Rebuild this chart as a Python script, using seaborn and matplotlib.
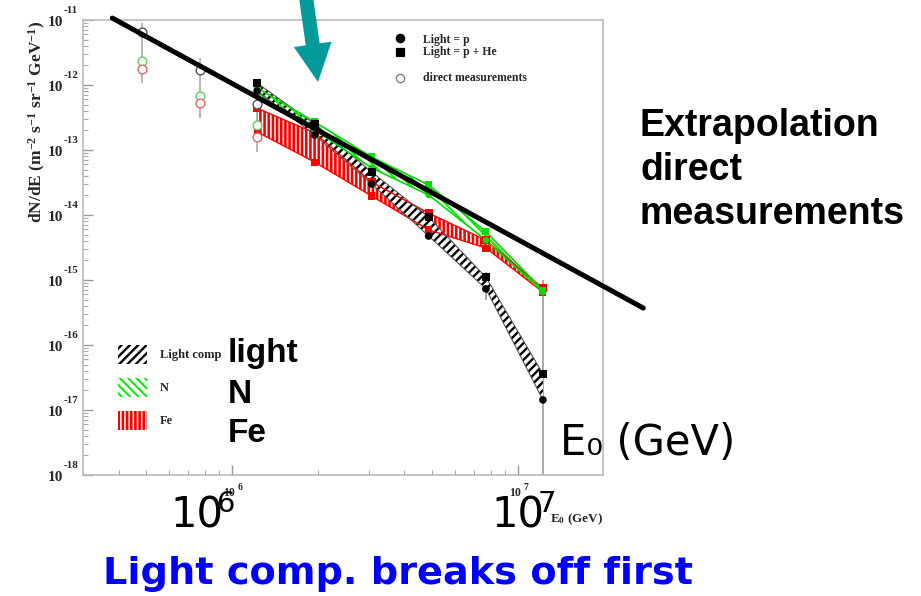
import numpy as np
import pandas as pd
import seaborn as sns
import matplotlib
matplotlib.use("Agg")
import matplotlib.pyplot as plt
import matplotlib.transforms as mtransforms
from matplotlib.patches import Polygon, Rectangle
from matplotlib.lines import Line2D
from matplotlib.ticker import LogLocator, NullFormatter

# ---------------------------------------------------------------- data
# primary energy bins (GeV)
energy = [1.22e6, 1.94e6, 3.07e6, 4.86e6, 7.71e6, 1.22e7]

# light component: p + He (upper edge) and p only (lower edge)
light_pHe = [1.07e-12, 2.5e-13, 4.6e-14, 9.3e-15, 1.1e-15, 3.6e-17]
light_p = [8.1e-13, 1.7e-13, 3.0e-14, 4.75e-15, 7.3e-16, 1.43e-17]

# nitrogen group band
n_upper = [9.0e-13, 2.7e-13, 7.8e-14, 2.9e-14, 5.5e-15, 7.0e-16]
n_lower = [6.8e-13, 2.03e-13, 5.3e-14, 2.03e-14, 4.1e-15, 6.5e-16]

# iron group band
fe_upper = [4.4e-13, 1.83e-13, 3.2e-14, 1.07e-14, 4.1e-15, 7.5e-16]
fe_lower = [1.9e-13, 6.5e-14, 1.96e-14, 5.9e-15, 3.1e-15, 6.5e-16]

# statistical error bars on the highest-energy light points
tail_energy = [7.71e6, 1.22e7]
tail_err_hi = [1.33e-15, 1.0e-15]
tail_err_lo = [4.9e-16, 1.0e-18]

# direct measurements (balloon / satellite)
direct_energy = [4.84e5, 7.67e5, 1.22e6]
direct_light = [6.5e-12, 1.7e-12, 5.1e-13]
direct_n = [2.34e-12, 6.8e-13, 2.4e-13]
direct_fe = [1.76e-12, 5.3e-13, 1.58e-13]
direct_err_hi = [9.0e-12, 2.6e-12, 5.9e-13]
direct_err_lo = [1.07e-12, 3.1e-13, 9.3e-14]

# power-law extrapolation of the direct measurements
extrap_energy = [3.8e5, 2.74e7]
extrap_flux = [1.07e-11, 3.7e-16]

y_decades = list(range(-18, -10))
x_decades = [6, 7]

# ---------------------------------------------------------------- style
sns.set_style("white")
plt.rcParams["mathtext.fontset"] = "custom"
plt.rcParams["mathtext.rm"] = "Liberation Serif:bold"
plt.rcParams["mathtext.it"] = "Liberation Serif:bold:italic"
plt.rcParams["mathtext.bf"] = "Liberation Serif:bold"

W, H = 921, 596
SERIF = dict(family="Liberation Serif", weight="bold")

# hatch style per band: (colour, pattern, line width)
FE_STYLE = ("#ff0000", "||||", 1.9)
LIGHT_STYLE = ("black", "////", 1.7)
N_STYLE = ("#00ee00", "\\\\\\\\", 1.4)


def fpx(x, y):
    """pixel position (from top-left) -> figure fraction"""
    return x / W, 1 - y / H


fig = plt.figure(figsize=(W / 100, H / 100), dpi=100)
ax = fig.add_axes([83 / W, 1 - 475 / H, 520 / W, 455 / H])
ax.set_xscale("log")
ax.set_yscale("log")
ax.set_xlim(3.0e5, 1.98e7)
ax.set_ylim(1e-18, 1e-11)

df = pd.DataFrame({
    "E": energy, "pHe": light_pHe, "p": light_p,
    "n_hi": n_upper, "n_lo": n_lower, "fe_hi": fe_upper, "fe_lo": fe_lower,
})
dd = pd.DataFrame({"E": direct_energy, "light": direct_light,
                   "n": direct_n, "fe": direct_fe})

# ---------------------------------------------------------------- bands
for (lo, hi, fc, z), (ec, hatch, hlw) in [
        (("fe_lo", "fe_hi", "white", 2), FE_STYLE),
        (("p", "pHe", "white", 3), LIGHT_STYLE),
        (("n_lo", "n_hi", "none", 4), N_STYLE)]:
    with plt.rc_context({"hatch.linewidth": hlw}):
        ax.fill_between(df["E"], df[lo], df[hi], facecolor=fc, edgecolor=ec,
                        hatch=hatch, linewidth=0, zorder=z)

for col, c, lw in [("fe_hi", "#ff0000", 1.0), ("fe_lo", "#ff0000", 1.0),
                   ("pHe", "#555555", 0.8), ("p", "#555555", 0.8),
                   ("n_hi", "#00dd00", 1.2), ("n_lo", "#00dd00", 1.2)]:
    sns.lineplot(data=df, x="E", y=col, color=c, lw=lw, ax=ax, zorder=5,
                 legend=False)

# markers
sns.scatterplot(data=df, x="E", y="fe_hi", marker="s", color="#ff0000", s=32,
                edgecolor="none", ax=ax, zorder=6)
sns.scatterplot(data=df, x="E", y="fe_lo", marker="s", color="#ff0000", s=26,
                edgecolor="none", ax=ax, zorder=6)
sns.scatterplot(data=df, x="E", y="n_hi", marker="s", color="#00dd00", s=26,
                edgecolor="none", ax=ax, zorder=6)
sns.scatterplot(data=df, x="E", y="n_lo", marker="o", color="#00dd00", s=22,
                edgecolor="none", ax=ax, zorder=6)
sns.scatterplot(data=df, x="E", y="pHe", marker="s", color="black", s=32,
                edgecolor="none", ax=ax, zorder=7)
sns.scatterplot(data=df, x="E", y="p", marker="o", color="black", s=30,
                edgecolor="none", ax=ax, zorder=7)

ax.vlines(tail_energy, tail_err_lo, tail_err_hi, color="#999999", lw=1.2,
          zorder=1)

# direct measurements
ax.vlines(direct_energy, direct_err_lo, direct_err_hi, color="#aaaaaa",
          lw=1.2, zorder=1)
for col, c in [("light", "#555555"), ("n", "#66cc66"), ("fe", "#dd6666")]:
    sns.scatterplot(data=dd, x="E", y=col, marker="o", facecolor="white",
                    edgecolor=c, linewidth=1.0, s=40, ax=ax, zorder=8)

# extrapolation
sns.lineplot(x=extrap_energy, y=extrap_flux, color="black", lw=3.6, ax=ax,
             zorder=9)
ax.get_lines()[-1].set_clip_on(False)

# ---------------------------------------------------------------- axes
ax.set_xlabel("")
ax.set_ylabel("")
for s in ax.spines.values():
    s.set_color("#bbbbbb")
    s.set_linewidth(1.2)
ax.yaxis.set_major_locator(LogLocator(base=10, numticks=20))
ax.yaxis.set_minor_locator(LogLocator(base=10, subs=np.arange(2, 10),
                                      numticks=100))
ax.xaxis.set_major_locator(LogLocator(base=10, numticks=20))
ax.xaxis.set_minor_locator(LogLocator(base=10, subs=np.arange(2, 10),
                                      numticks=100))
ax.xaxis.set_major_formatter(NullFormatter())
ax.yaxis.set_major_formatter(NullFormatter())
ax.xaxis.set_minor_formatter(NullFormatter())
ax.yaxis.set_minor_formatter(NullFormatter())
ax.tick_params(which="major", direction="in", length=7, width=1,
               color="#999999", left=True, bottom=True)
ax.tick_params(which="minor", direction="in", length=3.5, width=0.8,
               color="#aaaaaa", left=True, bottom=True)

# ROOT-style "10^n" tick labels
ytr = ax.get_yaxis_transform()
for k in y_decades:
    t1 = mtransforms.offset_copy(ytr, fig=fig, x=-20, y=-2, units="dots")
    ax.text(0, 10.0 ** k, "10", transform=t1, ha="right", va="center",
            fontsize=11, **SERIF)
    t2 = mtransforms.offset_copy(ytr, fig=fig, x=-19, y=10, units="dots")
    ax.text(0, 10.0 ** k, "-%d" % (-k), transform=t2, ha="left",
            va="center", fontsize=8, **SERIF)

xtr = ax.get_xaxis_transform()
for k in x_decades:
    t1 = mtransforms.offset_copy(xtr, fig=fig, x=3, y=-18, units="dots")
    ax.text(10.0 ** k, 0, "10", transform=t1, ha="right", va="center",
            fontsize=8.5, **SERIF)
    t2 = mtransforms.offset_copy(xtr, fig=fig, x=5, y=-12, units="dots")
    ax.text(10.0 ** k, 0, "%d" % k, transform=t2, ha="left", va="center",
            fontsize=7, **SERIF)

fig.text(*fpx(603, 522), r"E$_{0}$ (GeV)", ha="right", va="baseline",
         fontsize=9.5, **SERIF)
fig.text(*fpx(37, 122),
         r"dN/dE (m$^{-2}$ s$^{-1}$ sr$^{-1}$ GeV$^{-1}$)",
         rotation=90, ha="center", va="center", fontsize=12.5, **SERIF)

# marker legend (upper right)
for (ym, yt, m, fc, ec), lab in zip(
        [(38, 40, "o", "black", "black"), (52, 52, "s", "black", "black"),
         (78, 78, "o", "white", "#777777")],
        ["Light = p", "Light = p + He", "direct measurements"]):
    fig.add_artist(Line2D([400 / W], [1 - ym / H], marker=m, markersize=6,
                          markerfacecolor=fc, markeredgecolor=ec,
                          markeredgewidth=0.9, linestyle="none",
                          transform=fig.transFigure))
    fig.text(*fpx(423, yt), lab, ha="left", va="center", fontsize=8.5,
             **SERIF)

# band legend (lower left)
for (y, (ec, hatch, hlw)), lab in zip(
        [(345, LIGHT_STYLE), (378, N_STYLE), (411, FE_STYLE)],
        ["Light comp", "N", "Fe"]):
    with plt.rc_context({"hatch.linewidth": hlw}):
        x0, y0 = fpx(118, y + 19)
        fig.add_artist(Rectangle((x0, y0), 29 / W, 19 / H, facecolor="white",
                                 edgecolor=ec, hatch=hatch, linewidth=0,
                                 transform=fig.transFigure))
    fig.text(*fpx(160, y + 10), lab, ha="left", va="center", fontsize=9,
             **SERIF)

# ---------------------------------------------------------------- slide text
SANS_B = dict(family="Liberation Sans", weight="bold", color="black")
for txt, yb in [("light", 362), ("N", 403), ("Fe", 442)]:
    fig.text(*fpx(228, yb), txt, ha="left", va="baseline", fontsize=24,
             **SANS_B)
for txt, yb in [("Extrapolation", 136), ("direct", 180),
                ("measurements", 224)]:
    fig.text(*fpx(640, yb), txt, ha="left", va="baseline", fontsize=27,
             **SANS_B)

fig.text(*fpx(560, 455), "E\u2080 (GeV)", ha="left", va="baseline",
         fontsize=30, family="DejaVu Sans", color="black")

for k, x0 in [(6, 170), (7, 491)]:
    fig.text(*fpx(x0, 528), "10", ha="left", va="baseline", fontsize=30,
             family="DejaVu Sans", color="black")
    fig.text(*fpx(x0 + 47, 512), "%d" % k, ha="left", va="baseline",
             fontsize=21, family="DejaVu Sans", color="black")

fig.text(*fpx(398, 584), "Light comp. breaks off first", ha="center",
         va="baseline", fontsize=27.5, family="DejaVu Sans", weight="bold",
         color="#0000ff")

# teal pointer arrow
tail = np.array([305.0, -10.0])
tip = np.array([318.0, 82.0])
d = (tip - tail) / np.linalg.norm(tip - tail)
n = np.array([d[1], -d[0]])
base = tip - d * 38
pts = [tail + n * 7, base + n * 7, base + n * 19, tip, base - n * 19,
       base - n * 7, tail - n * 7]
fig.add_artist(Polygon([fpx(*p) for p in pts], closed=True,
                       facecolor="#009a9a", edgecolor="none",
                       transform=fig.transFigure))

fig.savefig("out.png", dpi=100, facecolor="white")
